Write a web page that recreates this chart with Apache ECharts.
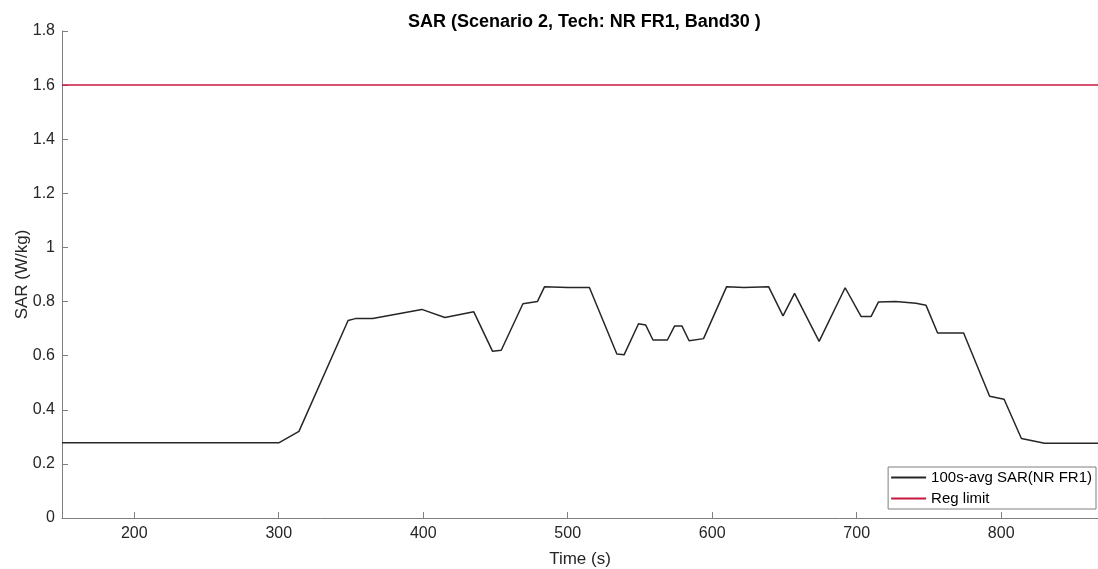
<!DOCTYPE html>
<html>
<head>
<meta charset="utf-8">
<script src="https://cdn.jsdelivr.net/npm/echarts@6/dist/echarts.min.js"></script>
<style>
html,body{margin:0;padding:0;background:#fff;}
#c{width:1098px;height:569px;}
</style>
</head>
<body>
<div id="c"></div>
<script>
const titleText = 'SAR (Scenario 2, Tech: NR FR1, Band30 )';
const seriesNames = ['100s-avg SAR(NR FR1)', 'Reg limit'];
const timeS = [150,300,314,348,353,365,399,415,435,448,454,469,479,484,500,515,534,539,549,554,559,569,574,579,584,594,610,622,639,649,657,674,692,703,710,715,727,741,748,756,774,792,802,814,830,867];
const sarAvg = [0.278,0.278,0.32,0.73,0.737,0.737,0.771,0.741,0.762,0.616,0.62,0.792,0.80,0.855,0.852,0.852,0.606,0.603,0.718,0.713,0.658,0.658,0.71,0.71,0.655,0.663,0.855,0.852,0.855,0.747,0.83,0.653,0.851,0.745,0.745,0.798,0.80,0.794,0.786,0.684,0.684,0.45,0.439,0.294,0.276,0.276];
const regTime = [150, 867];
const regLimit = [1.6, 1.6];
const xTicks = [200,300,400,500,600,700,800];

const font = 'Liberation Sans, Arial, sans-serif';
const chart = echarts.init(document.getElementById('c'));
chart.setOption({
  animation:false,
  backgroundColor:'#fff',
  title:{text:titleText,left:403,top:8,
    textStyle:{fontFamily:font,fontSize:18,fontWeight:'bold',color:'#000'}},
  grid:{left:62,top:31,right:0,bottom:51,containLabel:false,outerBoundsMode:'none'},
  legend:{
    orient:'vertical',right:2,bottom:60,
    backgroundColor:'#fff',borderColor:'#7f7f7f',borderWidth:1,
    padding:[3,4,3,3],itemGap:6,itemWidth:35,itemHeight:2,
    textStyle:{fontFamily:font,fontSize:15,color:'#000'},
    data:[{name:seriesNames[0],icon:'rect'},{name:seriesNames[1],icon:'rect'}]
  },
  xAxis:{type:'value',min:150,max:867,
    name:'Time (s)',nameLocation:'middle',nameGap:33,nameMoveOverlap:false,
    nameTextStyle:{fontFamily:font,fontSize:17,color:'#262626'},
    axisLine:{lineStyle:{color:'#808080',width:1}},
    axisTick:{inside:true,length:6,customValues:xTicks,lineStyle:{color:'#808080'}},
    axisLabel:{customValues:xTicks,fontFamily:font,fontSize:16,color:'#262626',margin:8},
    splitLine:{show:false}},
  yAxis:{type:'value',min:0,max:1.8,interval:0.2,
    name:'SAR (W/kg)',nameLocation:'middle',nameGap:31,nameMoveOverlap:false,
    nameTextStyle:{fontFamily:font,fontSize:17,color:'#262626'},
    axisLine:{show:true,lineStyle:{color:'#808080',width:1}},
    axisTick:{show:true,inside:true,length:6,lineStyle:{color:'#808080'}},
    axisLabel:{fontFamily:font,fontSize:16,color:'#262626',margin:7},
    splitLine:{show:false}},
  series:[
    {name:seriesNames[0],type:'line',showSymbol:false,
      lineStyle:{color:'#262626',width:1.5},itemStyle:{color:'#262626'},
      data:timeS.map((t,i)=>[t,sarAvg[i]])},
    {name:seriesNames[1],type:'line',showSymbol:false,
      lineStyle:{color:'#c8173f',width:1.5},itemStyle:{color:'#c8173f'},
      data:regTime.map((t,i)=>[t,regLimit[i]])}
  ]
});
</script>
</body>
</html>
